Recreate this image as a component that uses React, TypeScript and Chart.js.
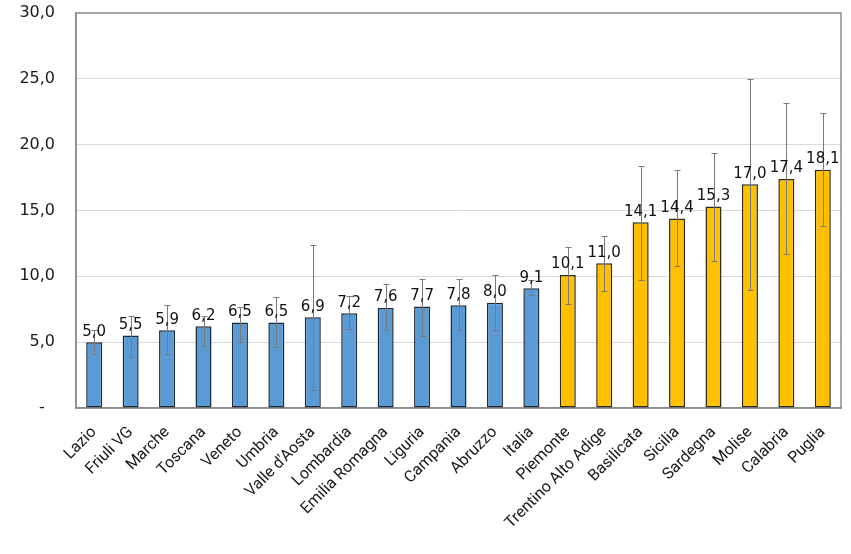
import React, { useEffect, useRef } from 'react';
import { Chart, registerables } from 'chart.js';
Chart.register(...registerables);

const categories = ['Lazio', 'Friuli VG', 'Marche', 'Toscana', 'Veneto', 'Umbria', "Valle d'Aosta", 'Lombardia', 'Emilia Romagna', 'Liguria', 'Campania', 'Abruzzo', 'Italia', 'Piemonte', 'Trentino Alto Adige', 'Basilicata', 'Sicilia', 'Sardegna', 'Molise', 'Calabria', 'Puglia'];
const values = [5.0, 5.5, 5.9, 6.2, 6.5, 6.5, 6.9, 7.2, 7.6, 7.7, 7.8, 8.0, 9.1, 10.1, 11.0, 14.1, 14.4, 15.3, 17.0, 17.4, 18.1];
const errLow = [4.1, 3.9, 4.1, 4.7, 5.0, 4.65, 1.4, 6.0, 5.9, 5.5, 5.9, 5.9, 8.6, 7.9, 8.9, 9.7, 10.8, 11.2, 9.0, 11.7, 13.8];
const errHigh = [5.9, 7.0, 7.8, 7.0, 7.7, 8.4, 12.4, 8.5, 9.4, 9.8, 9.8, 10.1, 9.7, 12.2, 13.1, 18.4, 18.1, 19.4, 25.0, 23.2, 22.4];
const blueCount = 13;
const yMin = 0;
const yMax = 30;
const yStep = 5;

const fmt = (v: number) => v.toFixed(1).replace('.', ',');

export default function App() {
  const ref = useRef<HTMLCanvasElement>(null);
  useEffect(() => {
    document.body.style.margin = '0';
    if (!ref.current) return;

    const framePlugin = {
      id: 'frame',
      beforeDatasetsDraw(chart: any) {
        const { ctx, chartArea: a } = chart;
        ctx.save();
        ctx.strokeStyle = '#8c8c8c';
        ctx.lineWidth = 1.5;
        ctx.strokeRect(a.left, a.top, a.right - a.left, a.bottom - a.top);
        ctx.restore();
      },
    };

    const errorPlugin = {
      id: 'errorBars',
      afterDatasetsDraw(chart: any) {
        const { ctx } = chart;
        const meta = chart.getDatasetMeta(0);
        const ys = chart.scales.y;
        ctx.save();
        ctx.strokeStyle = '#7a7a7a';
        ctx.lineWidth = 1;
        meta.data.forEach((bar: any, i: number) => {
          const x = Math.round(bar.x) + 0.5;
          const yl = Math.round(ys.getPixelForValue(errLow[i])) + 0.5;
          const yh = Math.round(ys.getPixelForValue(errHigh[i])) + 0.5;
          ctx.beginPath();
          ctx.moveTo(x, yl);
          ctx.lineTo(x, yh);
          ctx.moveTo(x - 3, yl);
          ctx.lineTo(x + 3, yl);
          ctx.moveTo(x - 3, yh);
          ctx.lineTo(x + 3, yh);
          ctx.stroke();
        });
        ctx.fillStyle = '#111111';
        ctx.font = '15px "DejaVu Sans"';
        ctx.textAlign = 'center';
        ctx.textBaseline = 'bottom';
        meta.data.forEach((bar: any, i: number) => {
          ctx.fillText(fmt(values[i]), bar.x, bar.y - 3);
        });
        ctx.restore();
      },
    };

    const chart = new Chart(ref.current, {
      type: 'bar',
      data: {
        labels: categories,
        datasets: [
          {
            data: values,
            backgroundColor: values.map((_, i) => (i < blueCount ? '#5B9BD5' : '#FFC000')),
            borderColor: values.map((_, i) => (i < blueCount ? '#1c2a38' : '#2e2a1a')),
            borderWidth: 1.5,
            borderSkipped: false,
            categoryPercentage: 1,
            barPercentage: 0.44,
          },
        ],
      },
      options: {
        animation: false,
        responsive: true,
        maintainAspectRatio: false,
        layout: { padding: { top: 13, right: 10, left: 0, bottom: 0 } },
        plugins: { legend: { display: false }, tooltip: { enabled: false } },
        scales: {
          x: {
            grid: { display: false, drawTicks: false },
            border: { display: true, color: '#8c8c8c', width: 1.5 },
            ticks: {
              autoSkip: false,
              minRotation: 45,
              maxRotation: 45,
              padding: 15,
              color: '#1a1a1a',
              font: { family: 'Roboto', size: 16 },
            },
            afterFit(scale: any) {
              scale.height = 146;
              scale.paddingLeft = 0;
              scale.paddingRight = 0;
            },
          },
          y: {
            min: yMin,
            max: yMax,
            grid: { color: '#d9d9d9', drawTicks: false },
            border: { display: true, color: '#8c8c8c', width: 1.5 },
            ticks: {
              stepSize: yStep,
              padding: 21,
              color: '#1a1a1a',
              font: { family: 'DejaVu Sans', size: 16 },
              callback: (v: any) => (Number(v) === 0 ? '-  ' : fmt(Number(v))),
            },
            afterFit(scale: any) {
              scale.width = 76;
              scale.paddingTop = 0;
              scale.paddingBottom = 0;
            },
          },
        },
      },
      plugins: [framePlugin, errorPlugin],
    });
    return () => chart.destroy();
  }, []);

  return (
    <div style={{ position: 'fixed', left: 0, top: 0, width: 851, height: 554, background: '#fff' }}>
      <canvas ref={ref} />
    </div>
  );
}
